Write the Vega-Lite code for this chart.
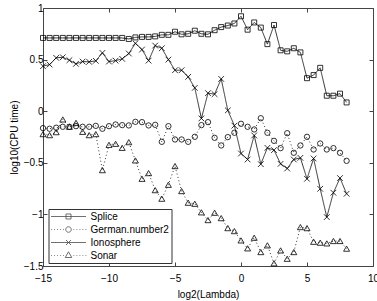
{
  "$schema": "https://vega.github.io/schema/vega-lite/v6.json",
  "width": 330,
  "height": 258,
  "autosize": "none",
  "padding": {"left": 43, "top": 8, "right": 4, "bottom": 35},
  "background": "white",
  "config": {
    "font": "Liberation Sans",
    "view": {"stroke": "#444", "strokeWidth": 1},
    "axis": {
      "labelFontSize": 10,
      "titleFontSize": 10,
      "titleFontWeight": "normal",
      "labelColor": "black",
      "titleColor": "black",
      "tickColor": "#444",
      "tickSize": -4,
      "domain": false,
      "gridColor": "#9a9a9a",
      "gridDash": [1, 2.5],
      "gridWidth": 0.8,
      "labelFlush": false
    },
    "legend": {
      "labelFont": "Liberation Sans",
      "labelFontSize": 10,
      "labelColor": "black"
    }
  },
  "data": {
    "values": [
      {"s": "Splice", "x": -15, "y": 0.71}, {"s": "Splice", "x": -14.5, "y": 0.71}, {"s": "Splice", "x": -14, "y": 0.71}, {"s": "Splice", "x": -13.5, "y": 0.71}, {"s": "Splice", "x": -13, "y": 0.71}, {"s": "Splice", "x": -12.5, "y": 0.71}, {"s": "Splice", "x": -12, "y": 0.71}, {"s": "Splice", "x": -11.5, "y": 0.71}, {"s": "Splice", "x": -11, "y": 0.71}, {"s": "Splice", "x": -10.5, "y": 0.71}, {"s": "Splice", "x": -10, "y": 0.71}, {"s": "Splice", "x": -9.5, "y": 0.71}, {"s": "Splice", "x": -9, "y": 0.71}, {"s": "Splice", "x": -8.5, "y": 0.70}, {"s": "Splice", "x": -8, "y": 0.715}, {"s": "Splice", "x": -7.5, "y": 0.72}, {"s": "Splice", "x": -7, "y": 0.72}, {"s": "Splice", "x": -6.5, "y": 0.725}, {"s": "Splice", "x": -6, "y": 0.74}, {"s": "Splice", "x": -5.5, "y": 0.74}, {"s": "Splice", "x": -5, "y": 0.77}, {"s": "Splice", "x": -4.5, "y": 0.745}, {"s": "Splice", "x": -4, "y": 0.75}, {"s": "Splice", "x": -3.5, "y": 0.78}, {"s": "Splice", "x": -3, "y": 0.75}, {"s": "Splice", "x": -2.5, "y": 0.745}, {"s": "Splice", "x": -2, "y": 0.785}, {"s": "Splice", "x": -1.5, "y": 0.815}, {"s": "Splice", "x": -1, "y": 0.83}, {"s": "Splice", "x": -0.5, "y": 0.85}, {"s": "Splice", "x": 0, "y": 0.92}, {"s": "Splice", "x": 0.5, "y": 0.79}, {"s": "Splice", "x": 1, "y": 0.86}, {"s": "Splice", "x": 1.5, "y": 0.81}, {"s": "Splice", "x": 2, "y": 0.65}, {"s": "Splice", "x": 2.5, "y": 0.835}, {"s": "Splice", "x": 3, "y": 0.59}, {"s": "Splice", "x": 3.5, "y": 0.58}, {"s": "Splice", "x": 4, "y": 0.61}, {"s": "Splice", "x": 4.5, "y": 0.57}, {"s": "Splice", "x": 5, "y": 0.32}, {"s": "Splice", "x": 5.5, "y": 0.35}, {"s": "Splice", "x": 6, "y": 0.42}, {"s": "Splice", "x": 6.5, "y": 0.15}, {"s": "Splice", "x": 7, "y": 0.15}, {"s": "Splice", "x": 7.5, "y": 0.17}, {"s": "Splice", "x": 8, "y": 0.085},
      {"s": "German.number2", "x": -15, "y": -0.164}, {"s": "German.number2", "x": -14.5, "y": -0.17}, {"s": "German.number2", "x": -14, "y": -0.16}, {"s": "German.number2", "x": -13.5, "y": -0.151}, {"s": "German.number2", "x": -13, "y": -0.151}, {"s": "German.number2", "x": -12.5, "y": -0.145}, {"s": "German.number2", "x": -12, "y": -0.151}, {"s": "German.number2", "x": -11.5, "y": -0.151}, {"s": "German.number2", "x": -11, "y": -0.142}, {"s": "German.number2", "x": -10.5, "y": -0.17}, {"s": "German.number2", "x": -10, "y": -0.145}, {"s": "German.number2", "x": -9.5, "y": -0.129}, {"s": "German.number2", "x": -9, "y": -0.135}, {"s": "German.number2", "x": -8.5, "y": -0.138}, {"s": "German.number2", "x": -8, "y": -0.103}, {"s": "German.number2", "x": -7.5, "y": -0.106}, {"s": "German.number2", "x": -7, "y": -0.138}, {"s": "German.number2", "x": -6.5, "y": -0.132}, {"s": "German.number2", "x": -6, "y": -0.297}, {"s": "German.number2", "x": -5.5, "y": -0.145}, {"s": "German.number2", "x": -5, "y": -0.274}, {"s": "German.number2", "x": -4.5, "y": -0.274}, {"s": "German.number2", "x": -4, "y": -0.297}, {"s": "German.number2", "x": -3.5, "y": -0.248}, {"s": "German.number2", "x": -3, "y": -0.135}, {"s": "German.number2", "x": -2.5, "y": -0.106}, {"s": "German.number2", "x": -2, "y": -0.258}, {"s": "German.number2", "x": -1.5, "y": -0.332}, {"s": "German.number2", "x": -1, "y": -0.251}, {"s": "German.number2", "x": -0.5, "y": -0.209}, {"s": "German.number2", "x": 0, "y": -0.122}, {"s": "German.number2", "x": 0.5, "y": -0.151}, {"s": "German.number2", "x": 1, "y": -0.177}, {"s": "German.number2", "x": 1.5, "y": -0.068}, {"s": "German.number2", "x": 2, "y": -0.209}, {"s": "German.number2", "x": 2.5, "y": -0.287}, {"s": "German.number2", "x": 3, "y": -0.358}, {"s": "German.number2", "x": 3.5, "y": -0.213}, {"s": "German.number2", "x": 4, "y": -0.403}, {"s": "German.number2", "x": 4.5, "y": -0.332}, {"s": "German.number2", "x": 5, "y": -0.248}, {"s": "German.number2", "x": 5.5, "y": -0.371}, {"s": "German.number2", "x": 6, "y": -0.313}, {"s": "German.number2", "x": 6.5, "y": -0.371}, {"s": "German.number2", "x": 7, "y": -0.358}, {"s": "German.number2", "x": 7.5, "y": -0.403}, {"s": "German.number2", "x": 8, "y": -0.481},
      {"s": "Ionosphere", "x": -15, "y": 0.436}, {"s": "Ionosphere", "x": -14.5, "y": 0.452}, {"s": "Ionosphere", "x": -14, "y": 0.517}, {"s": "Ionosphere", "x": -13.5, "y": 0.523}, {"s": "Ionosphere", "x": -13, "y": 0.494}, {"s": "Ionosphere", "x": -12.5, "y": 0.459}, {"s": "Ionosphere", "x": -12, "y": 0.481}, {"s": "Ionosphere", "x": -11.5, "y": 0.478}, {"s": "Ionosphere", "x": -11, "y": 0.488}, {"s": "Ionosphere", "x": -10.5, "y": 0.565}, {"s": "Ionosphere", "x": -10, "y": 0.481}, {"s": "Ionosphere", "x": -9.5, "y": 0.49}, {"s": "Ionosphere", "x": -9, "y": 0.507}, {"s": "Ionosphere", "x": -8.5, "y": 0.559}, {"s": "Ionosphere", "x": -8, "y": 0.658}, {"s": "Ionosphere", "x": -7.5, "y": 0.597}, {"s": "Ionosphere", "x": -7, "y": 0.49}, {"s": "Ionosphere", "x": -6.5, "y": 0.636}, {"s": "Ionosphere", "x": -6, "y": 0.61}, {"s": "Ionosphere", "x": -5.5, "y": 0.5}, {"s": "Ionosphere", "x": -5, "y": 0.397}, {"s": "Ionosphere", "x": -4.5, "y": 0.397}, {"s": "Ionosphere", "x": -4, "y": 0.333}, {"s": "Ionosphere", "x": -3.5, "y": 0.226}, {"s": "Ionosphere", "x": -3, "y": -0.07}, {"s": "Ionosphere", "x": -2.5, "y": 0.175}, {"s": "Ionosphere", "x": -2, "y": 0.165}, {"s": "Ionosphere", "x": -1.5, "y": 0.313}, {"s": "Ionosphere", "x": -1, "y": 0.008}, {"s": "Ionosphere", "x": -0.5, "y": -0.14}, {"s": "Ionosphere", "x": 0, "y": -0.41}, {"s": "Ionosphere", "x": 0.5, "y": -0.468}, {"s": "Ionosphere", "x": 1, "y": -0.235}, {"s": "Ionosphere", "x": 1.5, "y": -0.513}, {"s": "Ionosphere", "x": 2, "y": -0.355}, {"s": "Ionosphere", "x": 2.5, "y": -0.377}, {"s": "Ionosphere", "x": 3, "y": -0.51}, {"s": "Ionosphere", "x": 3.5, "y": -0.555}, {"s": "Ionosphere", "x": 4, "y": -0.468}, {"s": "Ionosphere", "x": 4.5, "y": -0.452}, {"s": "Ionosphere", "x": 5, "y": -0.655}, {"s": "Ionosphere", "x": 5.5, "y": -0.458}, {"s": "Ionosphere", "x": 6, "y": -0.752}, {"s": "Ionosphere", "x": 6.5, "y": -1.026}, {"s": "Ionosphere", "x": 7, "y": -0.79}, {"s": "Ionosphere", "x": 7.5, "y": -0.648}, {"s": "Ionosphere", "x": 8, "y": -0.8},
      {"s": "Sonar", "x": -15, "y": -0.222}, {"s": "Sonar", "x": -14.5, "y": -0.232}, {"s": "Sonar", "x": -14, "y": -0.203}, {"s": "Sonar", "x": -13.5, "y": -0.08}, {"s": "Sonar", "x": -13, "y": -0.151}, {"s": "Sonar", "x": -12.5, "y": -0.113}, {"s": "Sonar", "x": -12, "y": -0.2}, {"s": "Sonar", "x": -11.5, "y": -0.232}, {"s": "Sonar", "x": -11, "y": -0.222}, {"s": "Sonar", "x": -10.5, "y": -0.571}, {"s": "Sonar", "x": -10, "y": -0.326}, {"s": "Sonar", "x": -9.5, "y": -0.316}, {"s": "Sonar", "x": -9, "y": -0.355}, {"s": "Sonar", "x": -8.5, "y": -0.3}, {"s": "Sonar", "x": -8, "y": -0.477}, {"s": "Sonar", "x": -7.5, "y": -0.655}, {"s": "Sonar", "x": -7, "y": -0.6}, {"s": "Sonar", "x": -6.5, "y": -0.765}, {"s": "Sonar", "x": -6, "y": -0.848}, {"s": "Sonar", "x": -5.5, "y": -0.713}, {"s": "Sonar", "x": -5, "y": -0.532}, {"s": "Sonar", "x": -4.5, "y": -0.774}, {"s": "Sonar", "x": -4, "y": -0.887}, {"s": "Sonar", "x": -3.5, "y": -0.897}, {"s": "Sonar", "x": -3, "y": -0.98}, {"s": "Sonar", "x": -2.5, "y": -1.055}, {"s": "Sonar", "x": -2, "y": -0.984}, {"s": "Sonar", "x": -1.5, "y": -1.036}, {"s": "Sonar", "x": -1, "y": -1.133}, {"s": "Sonar", "x": -0.5, "y": -1.162}, {"s": "Sonar", "x": 0, "y": -1.252}, {"s": "Sonar", "x": 0.5, "y": -1.329}, {"s": "Sonar", "x": 1, "y": -1.226}, {"s": "Sonar", "x": 1.5, "y": -1.365}, {"s": "Sonar", "x": 2, "y": -1.3}, {"s": "Sonar", "x": 2.5, "y": -1.474}, {"s": "Sonar", "x": 3, "y": -1.349}, {"s": "Sonar", "x": 3.5, "y": -1.43}, {"s": "Sonar", "x": 4, "y": -1.365}, {"s": "Sonar", "x": 4.5, "y": -1.123}, {"s": "Sonar", "x": 5, "y": -1.133}, {"s": "Sonar", "x": 5.5, "y": -1.265}, {"s": "Sonar", "x": 6, "y": -1.274}, {"s": "Sonar", "x": 6.5, "y": -1.281}, {"s": "Sonar", "x": 7, "y": -1.258}, {"s": "Sonar", "x": 7.5, "y": -1.258}, {"s": "Sonar", "x": 8, "y": -1.332}
    ]
  },
  "resolve": {
    "scale": {"shape": "independent", "size": "independent"},
    "axis": {"x": "independent", "y": "independent"},
    "legend": {"shape": "independent"}
  },
  "layer": [
    {
      "mark": {"type": "line", "color": "black", "strokeWidth": 0.8, "clip": true},
      "encoding": {
        "x": {"field": "x", "type": "quantitative", "scale": {"domain": [-15, 10], "nice": false, "zero": false},
              "axis": {"orient": "top", "labels": false, "grid": false, "title": null, "values": [-15, -10, -5, 0, 5, 10]}},
        "y": {"field": "y", "type": "quantitative", "scale": {"domain": [-1.5, 1], "nice": false, "zero": false},
              "axis": {"orient": "right", "labels": false, "grid": false, "title": null, "values": [-1.5, -1, -0.5, 0, 0.5, 1]}},
        "detail": {"field": "s", "type": "nominal"},
        "strokeDash": {"field": "s", "type": "nominal", "legend": null,
          "scale": {"domain": ["Splice", "German.number2", "Ionosphere", "Sonar"], "range": [[1, 0], [1, 2.5], [1, 0], [1, 2.5]]}}
      }
    },
    {
      "mark": {"type": "point", "filled": false, "color": "black", "strokeWidth": 0.8, "opacity": 1},
      "encoding": {
        "x": {"field": "x", "type": "quantitative", "scale": {"domain": [-15, 10], "nice": false, "zero": false},
              "axis": {"orient": "bottom", "title": "log2(Lambda)", "values": [-15, -10, -5, 0, 5, 10], "format": "~g", "labelPadding": 11, "titlePadding": 6}},
        "y": {"field": "y", "type": "quantitative", "scale": {"domain": [-1.5, 1], "nice": false, "zero": false},
              "axis": {"orient": "left", "title": "log10(CPU time)", "values": [-1.5, -1, -0.5, 0, 0.5, 1], "format": "~g", "labelPadding": 4, "titlePadding": 4}},
        "shape": {"field": "s", "type": "nominal", "legend": null,
          "scale": {"domain": ["Splice", "German.number2", "Ionosphere", "Sonar"], "range": ["square", "circle", "M-1,-1L1,1M-1,1L1,-1", "triangle-up"]}},
        "size": {"field": "s", "type": "nominal", "legend": null,
          "scale": {"domain": ["Splice", "German.number2", "Ionosphere", "Sonar"], "range": [25, 36, 22, 45]}}
      }
    },
    {
      "transform": [{"filter": "false"}],
      "mark": {"type": "point", "filled": false, "color": "black", "strokeWidth": 0.8, "size": 100},
      "encoding": {
        "shape": {"field": "s", "type": "nominal",
          "scale": {"domain": ["Splice", "German.number2", "Ionosphere", "Sonar"],
            "range": [
              "M-1,0H6M2,-0.5H3V0.5H2Z",
              "M-1,0h0.16M-0.4,0h0.16M0.2,0h0.16M0.8,0h0.16M1.4,0h0.16M3.5,0h0.16M4.1,0h0.16M4.7,0h0.16M5.3,0h0.16M5.9,0h0.16M3.05,0A0.55,0.55 0 1,1 1.95,0A0.55,0.55 0 1,1 3.05,0Z",
              "M-1,0H6M2,-0.5L3,0.5M2,0.5L3,-0.5",
              "M-1,0h0.16M-0.4,0h0.16M0.2,0h0.16M0.8,0h0.16M1.4,0h0.16M3.5,0h0.16M4.1,0h0.16M4.7,0h0.16M5.3,0h0.16M5.9,0h0.16M2.5,-0.75L3.15,0.4L1.85,0.4Z"
            ]},
          "legend": {
            "title": null,
            "orient": "none",
            "legendX": 5.5,
            "legendY": 201,
            "padding": 2,
            "fillColor": "white",
            "strokeColor": "#333",
            "symbolSize": 100,
            "symbolStrokeWidth": 0.8,
            "symbolStrokeColor": "black",
            "symbolFillColor": "transparent",
            "labelOffset": 29,
            "rowPadding": 2
          }
        }
      }
    }
  ]
}
